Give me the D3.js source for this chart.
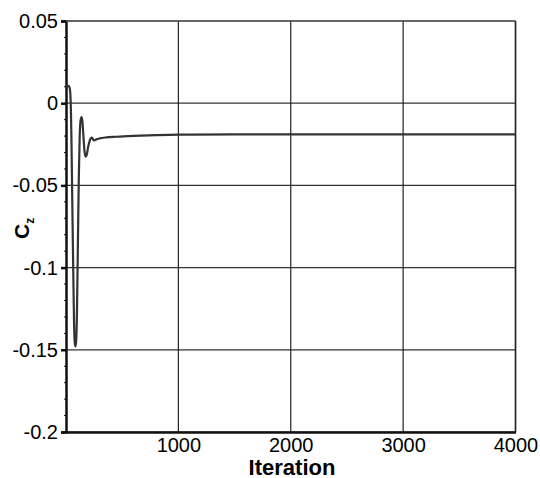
<!DOCTYPE html>
<html>
<head>
<meta charset="utf-8">
<script src="https://cdn.jsdelivr.net/npm/d3@7"></script>
<style>
  body { margin: 0; background: #fff; }
  svg text { font-family: "Liberation Sans", Arial, sans-serif; }
</style>
</head>
<body>
<svg id="chart" width="540" height="478"></svg>
<script>
// iteration history of Cz
var iterations = [0, 20, 32, 40, 48, 56, 64, 72, 80, 86, 92, 98, 106, 114, 122, 130, 138, 146, 156, 166, 176, 186, 196, 208, 220, 232, 242, 252, 270, 300, 360, 450, 600, 800, 1000, 1500, 2000, 3000, 4000];
var cz = [0.0105, 0.0105, 0.0095, 0.004, -0.02, -0.06, -0.1, -0.135, -0.147, -0.148, -0.143, -0.125, -0.085, -0.045, -0.02, -0.0105, -0.0085, -0.011, -0.021, -0.03, -0.0325, -0.031, -0.027, -0.0235, -0.0215, -0.021, -0.0222, -0.0226, -0.022, -0.0214, -0.0208, -0.0204, -0.0199, -0.0194, -0.0191, -0.019, -0.019, -0.019, -0.019];
var xTicks = [1000, 2000, 3000, 4000];
var yTicks = [0.05, 0, -0.05, -0.1, -0.15, -0.2];
var yTickLabels = ["0.05", "0", "-0.05", "-0.1", "-0.15", "-0.2"];

var svg = d3.select("#chart"),
    plotLeft = 66, plotTop = 21, plotRight = 515.5, plotBottom = 432;

var x = d3.scaleLinear().domain([0, 4000]).range([plotLeft, plotRight]);
var y = d3.scaleLinear().domain([-0.2, 0.05]).range([plotBottom, plotTop]);

/**grid lines*/
svg.append("g").selectAll("line").data(yTicks).enter().append("line")
   .attr("x1", plotLeft).attr("x2", plotRight)
   .attr("y1", function(d) { return y(d); }).attr("y2", function(d) { return y(d); })
   .attr("stroke", "#333").attr("stroke-width", 1.2);
svg.append("g").selectAll("line").data(xTicks).enter().append("line")
   .attr("y1", plotTop).attr("y2", plotBottom)
   .attr("x1", function(d) { return x(d); }).attr("x2", function(d) { return x(d); })
   .attr("stroke", "#222").attr("stroke-width", 1.2);

/**axes*/
var yAxis = svg.append("g")
   .attr("transform", "translate(" + plotLeft + ",0)")
   .call(d3.axisLeft(y).tickValues(yTicks).tickSize(5).tickPadding(3)
        .tickFormat(function(d, i) { return yTickLabels[i]; }));
yAxis.select(".domain").attr("stroke", "#111").attr("stroke-width", 2.5);
yAxis.selectAll(".tick line").attr("stroke", "#111").attr("stroke-width", 2.5);
yAxis.selectAll("text").attr("font-size", 20).attr("fill", "#000")
   .attr("font-family", "Liberation Sans, Arial, sans-serif");

// small minor ticks on the y axis
var minor = d3.range(-0.2, 0.0501, 0.01);
svg.append("g").selectAll("line").data(minor).enter().append("line")
   .attr("x1", plotLeft - 2).attr("x2", plotLeft)
   .attr("y1", function(d) { return y(d); }).attr("y2", function(d) { return y(d); })
   .attr("stroke", "#111").attr("stroke-width", 1);

var xAxis = svg.append("g")
   .attr("transform", "translate(0," + plotBottom + ")")
   .call(d3.axisBottom(x).tickValues(xTicks).tickSize(0).tickPadding(6).tickFormat(d3.format("d")));
xAxis.select(".domain").attr("stroke", "#111").attr("stroke-width", 2.5);
xAxis.selectAll("text").attr("font-size", 20).attr("fill", "#000")
   .attr("font-family", "Liberation Sans, Arial, sans-serif");

/**plot frame top and right*/
svg.append("line").attr("x1", plotLeft).attr("x2", plotRight).attr("y1", plotTop).attr("y2", plotTop)
   .attr("stroke", "#555").attr("stroke-width", 1.5);
svg.append("line").attr("x1", plotRight).attr("x2", plotRight).attr("y1", plotTop).attr("y2", plotBottom)
   .attr("stroke", "#222").attr("stroke-width", 1.5);

/**data line*/
var line = d3.line()
   .x(function(d) { return x(d[0]); })
   .y(function(d) { return y(d[1]); })
   .curve(d3.curveMonotoneX);
svg.append("path")
   .datum(d3.zip(iterations, cz))
   .attr("d", line)
   .attr("fill", "none")
   .attr("stroke", "#333")
   .attr("stroke-width", 2.2);

/**axis titles*/
svg.append("text")
   .attr("x", 292).attr("y", 475)
   .attr("text-anchor", "middle")
   .attr("font-size", 22).attr("font-weight", "bold")
   .text("Iteration");

var yt = svg.append("text")
   .attr("transform", "translate(29,239) rotate(-90)")
   .attr("font-weight", "bold");
yt.append("tspan").attr("font-size", 21).text("C");
yt.append("tspan").attr("font-size", 12).attr("dy", 5).text("z");
</script>
</body>
</html>
